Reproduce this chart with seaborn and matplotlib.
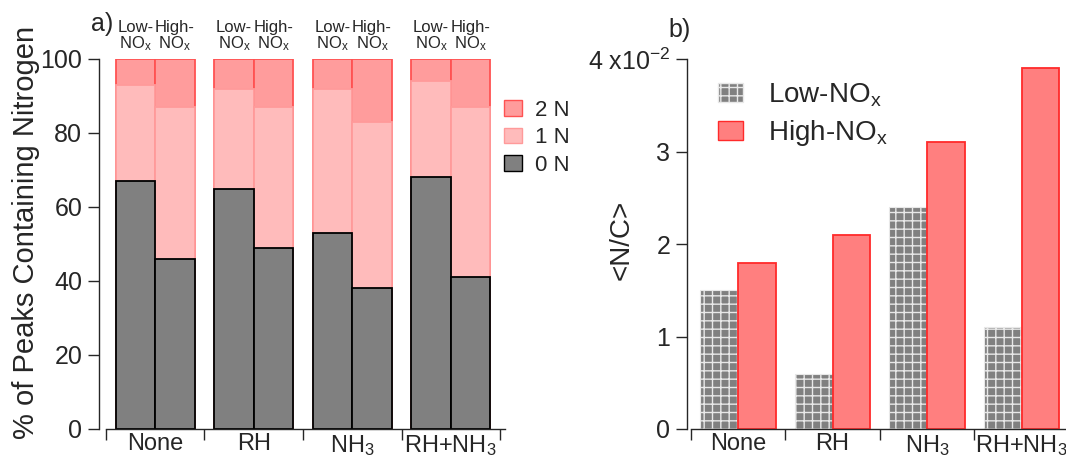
import pandas as pd
import matplotlib
matplotlib.use('Agg')
import matplotlib.pyplot as plt
import matplotlib.patches as mpatches
import seaborn as sns

# data
treatments = ['None', 'RH', 'NH$_3$', 'RH+NH$_3$']
conditions = ['Low-NO$_x$', 'High-NO$_x$']
low_0n = [67, 65, 53, 68]
low_1n = [26, 27, 39, 26]
low_2n = [7, 8, 8, 6]
high_0n = [46, 49, 38, 41]
high_1n = [41, 38, 45, 46]
high_2n = [13, 13, 17, 13]
nc_low = [0.015, 0.006, 0.024, 0.011]
nc_high = [0.018, 0.021, 0.031, 0.039]

sns.set_style('ticks')
plt.rcParams['font.family'] = ['Liberation Sans', 'DejaVu Sans']
plt.rcParams['mathtext.fontset'] = 'custom'
plt.rcParams['mathtext.rm'] = 'Liberation Sans'
plt.rcParams['mathtext.it'] = 'Liberation Sans'
plt.rcParams['hatch.linewidth'] = 1.0

rows = []
for i, t in enumerate(treatments):
    for c, n0, n1, n2 in [(conditions[0], low_0n, low_1n, low_2n),
                          (conditions[1], high_0n, high_1n, high_2n)]:
        rows.append({'treatment': t, 'cond': c,
                     'n0': n0[i], 'n01': n0[i] + n1[i], 'n012': n0[i] + n1[i] + n2[i]})
df = pd.DataFrame(rows)

nc = pd.DataFrame({'treatment': treatments * 2,
                   'cond': [conditions[0]] * 4 + [conditions[1]] * 4,
                   'nc': nc_low + nc_high})

fig = plt.figure(figsize=(10.66, 4.58), dpi=100)
ax1 = fig.add_axes([99 / 1066, 29 / 458, 405 / 1066, 370 / 458])
ax2 = fig.add_axes([687 / 1066, 29 / 458, 386.5 / 1066, 370 / 458])

# stacked bars: draw cumulative totals back to front
layers = [('n012', '#FF9C9C', '#FF5252'),
          ('n01', '#FFBBBB', '#FF9A9A'),
          ('n0', '#808080', 'black')]
for col, fc, ec in layers:
    sns.barplot(data=df, x='treatment', y=col, hue='cond', hue_order=conditions,
                palette=[fc, fc], edgecolor=ec, linewidth=1.3, saturation=1,
                width=0.8, legend=False, ax=ax1)

ax1.set_ylim(0, 100)
ax1.set_xlim(-0.57, 3.54)
ax1.set_yticks([0, 20, 40, 60, 80, 100])
ax1.set_xlabel('')
ax1.set_ylabel('% of Peaks Containing Nitrogen', fontsize=21)
ax1.yaxis.set_label_coords(-0.146, 0.53)

for i in range(4):
    ax1.text(i - 0.2, 101.5, 'Low-\nNO$_x$', ha='center', va='bottom', fontsize=12, linespacing=1.0)
    ax1.text(i + 0.2, 101.5, 'High-\nNO$_x$', ha='center', va='bottom', fontsize=12, linespacing=1.0)
ax1.text(-0.65, 109.5, 'a)', ha='left', va='center', fontsize=18)

leg_a = [mpatches.Patch(facecolor='#FF9C9C', edgecolor='#FF5252', label='2 N'),
         mpatches.Patch(facecolor='#FFBBBB', edgecolor='#FF9A9A', label='1 N'),
         mpatches.Patch(facecolor='#808080', edgecolor='black', label='0 N')]
ax1.legend(handles=leg_a, loc='upper left', bbox_to_anchor=(1.0, 0.89), frameon=False,
           fontsize=16, handlelength=0.8, handleheight=0.7, handletextpad=0.6,
           labelspacing=0.3, borderaxespad=0, borderpad=0)

# panel b
sns.barplot(data=nc, x='treatment', y='nc', hue='cond', hue_order=conditions,
            palette=['#808080', '#FF7F7F'], saturation=1, width=0.8, legend=False, ax=ax2)
for p in ax2.patches[:4]:
    p.set_hatch('++')
    p.set_edgecolor('#E8E8E8')
    p.set_linewidth(0.8)
for p in ax2.patches[4:8]:
    p.set_edgecolor('#FF2A2A')
    p.set_linewidth(1.3)
ax2.set_ylim(0, 0.04)
ax2.set_xlim(-0.54, 3.55)
ax2.set_yticks([0, 0.01, 0.02, 0.03, 0.04])
ax2.set_yticklabels(['0', '1', '2', '3', '4 x10$^{-2}$'])
ax2.set_xlabel('')
ax2.set_ylabel('<N/C>', fontsize=20)
ax2.yaxis.set_label_coords(-0.135, 0.51)
ax2.text(-0.74, 0.0431, 'b)', ha='left', va='center', fontsize=18)

leg_b = [mpatches.Patch(facecolor='#808080', edgecolor='#E8E8E8', hatch='++', label=conditions[0]),
         mpatches.Patch(facecolor='#FF7F7F', edgecolor='#FF2A2A', label=conditions[1])]
ax2.legend(handles=leg_b, loc='upper left', bbox_to_anchor=(0.08, 0.94), frameon=False,
           fontsize=20, handlelength=0.9, handleheight=0.7, handletextpad=0.9,
           labelspacing=0.35, borderaxespad=0, borderpad=0)

for ax in (ax1, ax2):
    sns.despine(ax=ax)
    ax.spines['bottom'].set_bounds(-0.5, 3.55)
    ax.spines['left'].set_linewidth(1.0)
    ax.spines['bottom'].set_linewidth(1.0)
    ax.set_xticks([0, 1, 2, 3])
    ax.set_xticklabels(treatments)
    ax.set_xticks([-0.5, 0.5, 1.5, 2.5, 3.5], minor=True)
    ax.tick_params(axis='x', which='major', length=0, labelsize=17, pad=3)
    ax.tick_params(axis='x', which='minor', length=8, width=1.0, direction='out')
    ax.tick_params(axis='y', length=8, width=1.0, labelsize=18, pad=4)
    ax.grid(False)

fig.savefig('out.png', dpi=100)
